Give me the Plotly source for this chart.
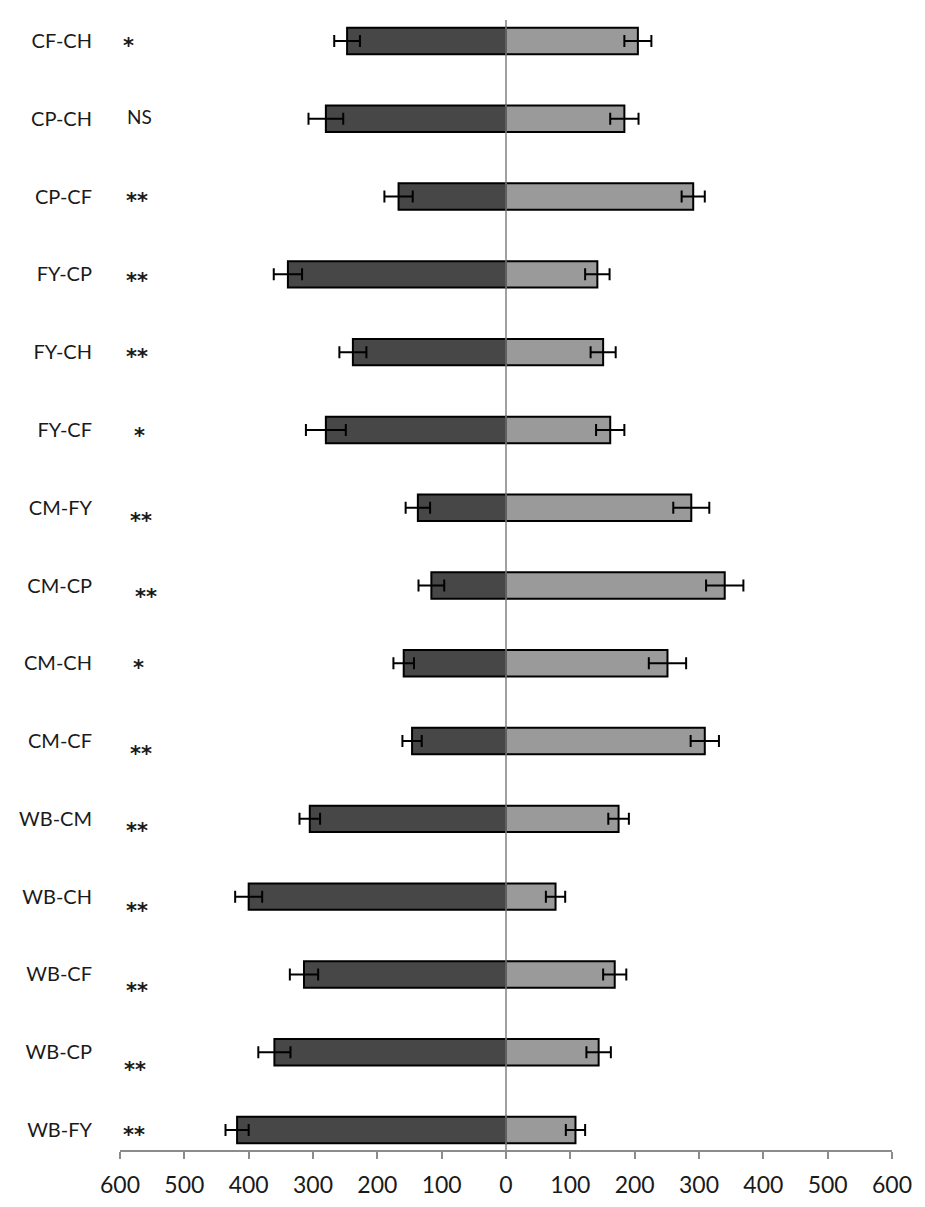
import plotly.graph_objects as go

categories = ["CF-CH", "CP-CH", "CP-CF", "FY-CP", "FY-CH", "FY-CF", "CM-FY", "CM-CP",
              "CM-CH", "CM-CF", "WB-CM", "WB-CH", "WB-CF", "WB-CP", "WB-FY"]
left_values = [247, 280, 167, 339, 238, 280, 137, 116, 159, 146, 305, 400, 314, 360, 418]
left_errors = [20, 27, 22, 22, 21, 31, 19, 20, 16, 15, 16, 21, 22, 25, 18]
right_values = [205, 184, 291, 142, 151, 162, 288, 340, 251, 309, 175, 77, 169, 144, 108]
right_errors = [21, 22, 18, 19, 19.5, 22, 28, 29, 29, 22, 16, 15, 18, 19, 15]
significance = ["*", "NS", "**", "**", "**", "*", "**", "**", "*", "**", "**", "**", "**", "**", "**"]
tick_values = [-600, -500, -400, -300, -200, -100, 0, 100, 200, 300, 400, 500, 600]
tick_labels = ["600", "500", "400", "300", "200", "100", "0", "100", "200", "300", "400", "500", "600"]

# layout-only helpers for the significance markers (x in axis units, downward pixel offset)
sig_x = [-587, -570, -573, -573, -573, -570, -568, -560, -572, -567, -573, -573, -573, -576, -578]
sig_dy = [0, -2, 0, 2, 0, 1, 9, 7, 0, 8, 8, 10, 12, 13, 0]

DARK = "#474747"
LIGHT = "#9a9a9a"
LABEL_FONT = "Lato, 'Open Sans', sans-serif"
STAR_FONT = "'DejaVu Sans', sans-serif"

fig = go.Figure()
fig.add_trace(go.Bar(
    y=categories, x=[-v for v in left_values], orientation="h",
    marker=dict(color=DARK, line=dict(color="#000000", width=2)),
    width=0.34,
    error_x=dict(type="data", array=left_errors, symmetric=True,
                 color="#000000", thickness=2, width=6),
    showlegend=False, hoverinfo="skip",
))
fig.add_trace(go.Bar(
    y=categories, x=right_values, orientation="h",
    marker=dict(color=LIGHT, line=dict(color="#000000", width=2)),
    width=0.34,
    error_x=dict(type="data", array=right_errors, symmetric=True,
                 color="#000000", thickness=2, width=6),
    showlegend=False, hoverinfo="skip",
))

fig.add_shape(type="line", xref="x", yref="paper", x0=0, x1=0, y0=0, y1=1,
              line=dict(color="#808080", width=1.5), layer="above")

for cat, s, sx, dy in zip(categories, significance, sig_x, sig_dy):
    is_star = "*" in s
    size = 21 if is_star else 19
    family = STAR_FONT if is_star else LABEL_FONT
    glyph = -0.22 * size if is_star else 0
    fig.add_annotation(
        x=sx, y=cat, xref="x", yref="y", text=s, showarrow=False,
        xanchor="center", yanchor="middle",
        yshift=-dy + glyph,
        font=dict(family=family, size=size, color="#1a1a1a",
                  weight="bold" if is_star else "normal"),
    )

fig.update_layout(
    width=925, height=1207,
    margin=dict(l=112, r=41, t=12, b=65, autoexpand=False),
    paper_bgcolor="white", plot_bgcolor="white",
    barmode="overlay",
    font=dict(family=LABEL_FONT, color="#1a1a1a"),
)
fig.update_xaxes(
    range=[-600, 600], tickvals=tick_values, ticktext=tick_labels,
    showgrid=False, zeroline=False, automargin=False,
    showline=True, linecolor="#8c8c8c", linewidth=2,
    ticks="outside", ticklen=7, tickwidth=1.5, tickcolor="#8c8c8c",
    tickfont=dict(size=23, family=LABEL_FONT, color="#1a1a1a"),
    ticklabelstandoff=6,
)
fig.update_yaxes(
    type="category", categoryorder="array", categoryarray=categories,
    range=[14.257, -0.27], automargin=False,
    showgrid=False, zeroline=False, showline=False, ticks="",
    tickfont=dict(size=20, family=LABEL_FONT, color="#1a1a1a"),
    ticklabelstandoff=27,
)

fig.write_html("out.html")
